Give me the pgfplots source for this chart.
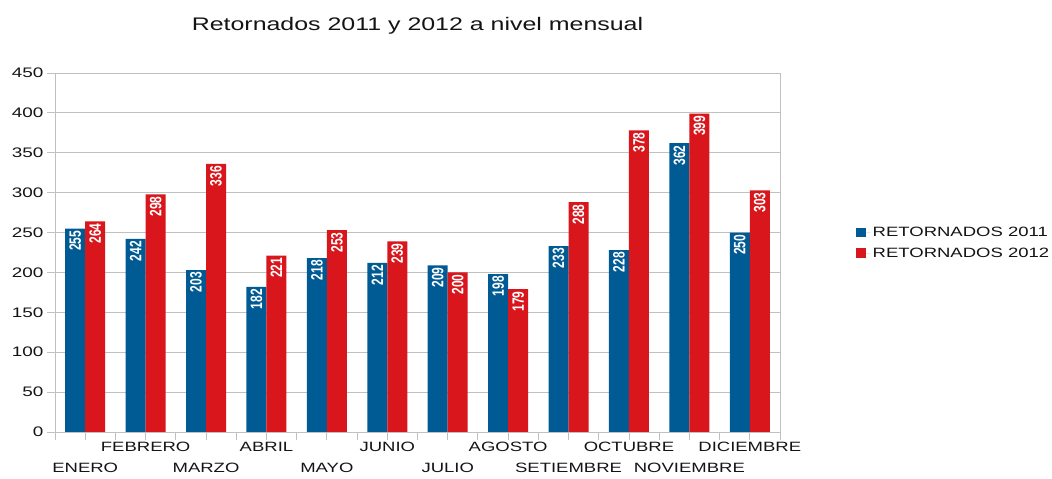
\documentclass[border=0pt]{standalone}
\usepackage{fontspec}
\setmainfont{Liberation Sans}
\newfontfamily\wide[FakeStretch=1.37]{Liberation Sans}
\usepackage{pgfplots}
\usepackage{graphicx}
\pgfplotsset{compat=1.18}

\definecolor{azul}{RGB}{0,90,148}
\definecolor{rojo}{RGB}{216,22,28}
\definecolor{rejilla}{RGB}{192,192,192}
\definecolor{texto}{RGB}{20,20,20}

\begin{document}
\begin{tikzpicture}
\useasboundingbox (0,0) rectangle (1052pt,479pt);
\begin{axis}[
    at={(55pt,47pt)}, anchor=south west,
    scale only axis,
    width=725pt, height=359pt,
    ybar=0pt,
    bar width=20pt,
    ymin=0, ymax=450,
    ytick={0,50,...,450},
    xmin=-0.5, xmax=11.5,
    xtick={-0.5,0,...,11.5},
    xticklabels={{},{\vphantom{A}\\ENERO},{},{FEBRERO},{},{\vphantom{A}\\MARZO},{},{ABRIL},{},{\vphantom{A}\\MAYO},{},{JUNIO},{},{\vphantom{A}\\JULIO},{},{AGOSTO},{},{\vphantom{A}\\SETIEMBRE},{},{OCTUBRE},{},{\vphantom{A}\\NOVIEMBRE},{},{DICIEMBRE},{}},
    xticklabel style={align=center, anchor=north, font=\wide\fontsize{13.5}{21}\selectfont, text=texto, inner sep=1pt, yshift=-1pt},
    yticklabel style={font=\wide\fontsize{13.8}{16}\selectfont, text=texto},
    /pgf/number format/assume math mode=true,
    xtick pos=bottom, ytick pos=left,
    tick align=outside,
    major tick length=8pt,
    tick style={rejilla, line width=0.9pt},
    axis line style={rejilla, line width=0.9pt},
    ymajorgrids=true,
    grid style={rejilla, line width=0.9pt},
    title={Retornados 2011 y 2012 a nivel mensual},
    title style={font=\wide\fontsize{18.2}{20}\selectfont, text=texto, at={(0.5,1)}, anchor=south, yshift=29pt},
    nodes near coords={\scalebox{1}[1.37]{\pgfmathprintnumber\pgfplotspointmeta}},
    every node near coord/.append style={rotate=90, anchor=east, inner sep=2pt, text=white, font=\bfseries\fontsize{12}{12}\selectfont},
    legend style={at={(1.1,0.527)}, anchor=west, draw=none, fill=none,
        font=\wide\fontsize{13.5}{16}\selectfont, text=texto, row sep=6pt},
    legend cell align=left,
    legend image code/.code={\fill[#1] (0pt,-4.8pt) rectangle (10pt,4.8pt); \path (0pt,0pt) -- (15pt,0pt);},
]
\addplot[fill=azul, draw=none] coordinates {
    (0,255) (1,242) (2,203) (3,182) (4,218) (5,212)
    (6,209) (7,198) (8,233) (9,228) (10,362) (11,250)
};
\addplot[fill=rojo, draw=none] coordinates {
    (0,264) (1,298) (2,336) (3,221) (4,253) (5,239)
    (6,200) (7,179) (8,288) (9,378) (10,399) (11,303)
};
\legend{RETORNADOS 2011, RETORNADOS 2012}
\end{axis}
\end{tikzpicture}
\end{document}
